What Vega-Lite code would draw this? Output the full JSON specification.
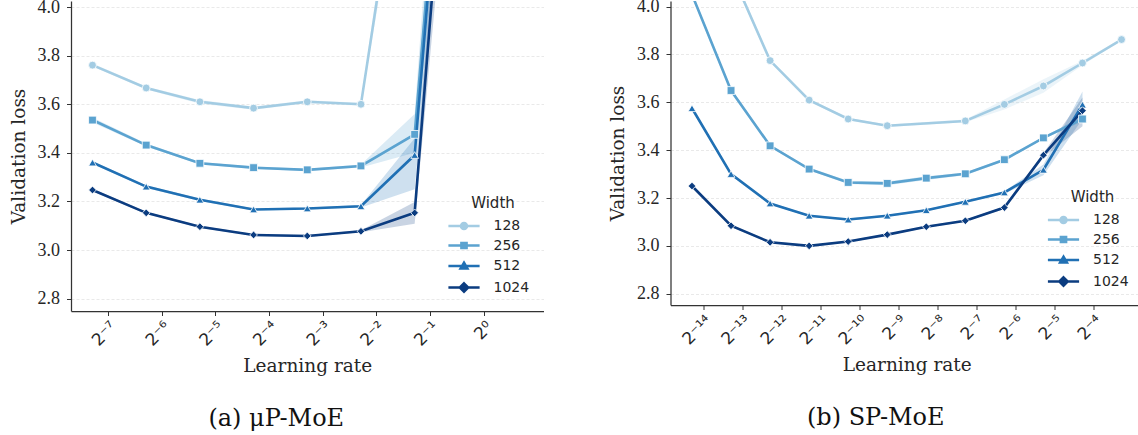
{
  "$schema": "https://vega.github.io/schema/vega-lite/v6.json",
  "autosize": {"type": "pad"},
  "padding": {"left": 9, "top": -3, "right": 0, "bottom": 0},
  "bounds": "flush",
  "spacing": 126.5,
  "datasets": {
    "mup": [
      {"lr": 0.0064, "Width": 128, "loss": 3.761, "lo": 3.755, "hi": 3.768},
      {"lr": 0.0128, "Width": 128, "loss": 3.667, "lo": 3.661, "hi": 3.673},
      {"lr": 0.0256, "Width": 128, "loss": 3.610, "lo": 3.602, "hi": 3.618},
      {"lr": 0.0512, "Width": 128, "loss": 3.584, "lo": 3.577, "hi": 3.591},
      {"lr": 0.1024, "Width": 128, "loss": 3.610, "lo": 3.604, "hi": 3.616},
      {"lr": 0.2048, "Width": 128, "loss": 3.600, "lo": 3.594, "hi": 3.606},
      {"lr": 0.4096, "Width": 128, "loss": 5.04, "lo": 4.9, "hi": 5.2},
      {"lr": 0.8192, "Width": 128, "loss": 7.0, "lo": 6.8, "hi": 7.2},
      {"lr": 1.6384, "Width": 128, "loss": 7.5, "lo": 7.3, "hi": 7.7},
      {"lr": 0.0064, "Width": 256, "loss": 3.535, "lo": 3.525, "hi": 3.545},
      {"lr": 0.0128, "Width": 256, "loss": 3.432, "lo": 3.426, "hi": 3.438},
      {"lr": 0.0256, "Width": 256, "loss": 3.357, "lo": 3.352, "hi": 3.362},
      {"lr": 0.0512, "Width": 256, "loss": 3.339, "lo": 3.334, "hi": 3.344},
      {"lr": 0.1024, "Width": 256, "loss": 3.330, "lo": 3.325, "hi": 3.335},
      {"lr": 0.2048, "Width": 256, "loss": 3.346, "lo": 3.340, "hi": 3.352},
      {"lr": 0.4096, "Width": 256, "loss": 3.476, "lo": 3.40, "hi": 3.56},
      {"lr": 0.8192, "Width": 256, "loss": 6.1, "lo": 5.6, "hi": 6.6},
      {"lr": 1.6384, "Width": 256, "loss": 7.5, "lo": 7.3, "hi": 7.7},
      {"lr": 0.0064, "Width": 512, "loss": 3.360, "lo": 3.355, "hi": 3.365},
      {"lr": 0.0128, "Width": 512, "loss": 3.261, "lo": 3.255, "hi": 3.267},
      {"lr": 0.0256, "Width": 512, "loss": 3.207, "lo": 3.202, "hi": 3.212},
      {"lr": 0.0512, "Width": 512, "loss": 3.167, "lo": 3.163, "hi": 3.171},
      {"lr": 0.1024, "Width": 512, "loss": 3.171, "lo": 3.167, "hi": 3.175},
      {"lr": 0.2048, "Width": 512, "loss": 3.180, "lo": 3.175, "hi": 3.185},
      {"lr": 0.4096, "Width": 512, "loss": 3.391, "lo": 3.25, "hi": 3.46},
      {"lr": 0.8192, "Width": 512, "loss": 6.05, "lo": 5.6, "hi": 6.5},
      {"lr": 1.6384, "Width": 512, "loss": 7.5, "lo": 7.3, "hi": 7.7},
      {"lr": 0.0064, "Width": 1024, "loss": 3.247, "lo": 3.242, "hi": 3.252},
      {"lr": 0.0128, "Width": 1024, "loss": 3.153, "lo": 3.148, "hi": 3.158},
      {"lr": 0.0256, "Width": 1024, "loss": 3.096, "lo": 3.092, "hi": 3.100},
      {"lr": 0.0512, "Width": 1024, "loss": 3.062, "lo": 3.058, "hi": 3.066},
      {"lr": 0.1024, "Width": 1024, "loss": 3.058, "lo": 3.054, "hi": 3.062},
      {"lr": 0.2048, "Width": 1024, "loss": 3.077, "lo": 3.073, "hi": 3.081},
      {"lr": 0.4096, "Width": 1024, "loss": 3.153, "lo": 3.108, "hi": 3.198},
      {"lr": 0.8192, "Width": 1024, "loss": 5.9, "lo": 5.5, "hi": 6.3},
      {"lr": 1.6384, "Width": 1024, "loss": 7.5, "lo": 7.3, "hi": 7.7}
    ],
    "sp": [
      {"lr": 0.00005, "Width": 128, "loss": 4.6, "lo": 4.5, "hi": 4.7},
      {"lr": 0.0001, "Width": 128, "loss": 4.145, "lo": 4.13, "hi": 4.16},
      {"lr": 0.0002, "Width": 128, "loss": 3.774, "lo": 3.768, "hi": 3.780},
      {"lr": 0.0004, "Width": 128, "loss": 3.609, "lo": 3.603, "hi": 3.615},
      {"lr": 0.0008, "Width": 128, "loss": 3.530, "lo": 3.525, "hi": 3.535},
      {"lr": 0.0016, "Width": 128, "loss": 3.502, "lo": 3.497, "hi": 3.507},
      {"lr": 0.0064, "Width": 128, "loss": 3.522, "lo": 3.516, "hi": 3.528},
      {"lr": 0.0128, "Width": 128, "loss": 3.591, "lo": 3.570, "hi": 3.612},
      {"lr": 0.0256, "Width": 128, "loss": 3.668, "lo": 3.640, "hi": 3.696},
      {"lr": 0.0512, "Width": 128, "loss": 3.764, "lo": 3.755, "hi": 3.773},
      {"lr": 0.1024, "Width": 128, "loss": 3.862, "lo": 3.858, "hi": 3.866},
      {"lr": 0.00005, "Width": 256, "loss": 4.05, "lo": 4.04, "hi": 4.06},
      {"lr": 0.0001, "Width": 256, "loss": 3.649, "lo": 3.643, "hi": 3.655},
      {"lr": 0.0002, "Width": 256, "loss": 3.418, "lo": 3.412, "hi": 3.424},
      {"lr": 0.0004, "Width": 256, "loss": 3.321, "lo": 3.316, "hi": 3.326},
      {"lr": 0.0008, "Width": 256, "loss": 3.265, "lo": 3.258, "hi": 3.272},
      {"lr": 0.0016, "Width": 256, "loss": 3.261, "lo": 3.253, "hi": 3.269},
      {"lr": 0.0032, "Width": 256, "loss": 3.283, "lo": 3.275, "hi": 3.291},
      {"lr": 0.0064, "Width": 256, "loss": 3.301, "lo": 3.295, "hi": 3.307},
      {"lr": 0.0128, "Width": 256, "loss": 3.360, "lo": 3.355, "hi": 3.365},
      {"lr": 0.0256, "Width": 256, "loss": 3.451, "lo": 3.446, "hi": 3.456},
      {"lr": 0.0512, "Width": 256, "loss": 3.530, "lo": 3.520, "hi": 3.540},
      {"lr": 0.00005, "Width": 512, "loss": 3.575, "lo": 3.570, "hi": 3.580},
      {"lr": 0.0001, "Width": 512, "loss": 3.300, "lo": 3.295, "hi": 3.305},
      {"lr": 0.0002, "Width": 512, "loss": 3.177, "lo": 3.173, "hi": 3.181},
      {"lr": 0.0004, "Width": 512, "loss": 3.126, "lo": 3.122, "hi": 3.130},
      {"lr": 0.0008, "Width": 512, "loss": 3.110, "lo": 3.106, "hi": 3.114},
      {"lr": 0.0016, "Width": 512, "loss": 3.126, "lo": 3.122, "hi": 3.130},
      {"lr": 0.0032, "Width": 512, "loss": 3.149, "lo": 3.145, "hi": 3.153},
      {"lr": 0.0064, "Width": 512, "loss": 3.184, "lo": 3.180, "hi": 3.188},
      {"lr": 0.0128, "Width": 512, "loss": 3.223, "lo": 3.218, "hi": 3.228},
      {"lr": 0.0256, "Width": 512, "loss": 3.318, "lo": 3.295, "hi": 3.340},
      {"lr": 0.0512, "Width": 512, "loss": 3.590, "lo": 3.530, "hi": 3.645},
      {"lr": 0.00005, "Width": 1024, "loss": 3.250, "lo": 3.246, "hi": 3.254},
      {"lr": 0.0001, "Width": 1024, "loss": 3.084, "lo": 3.080, "hi": 3.088},
      {"lr": 0.0002, "Width": 1024, "loss": 3.015, "lo": 3.011, "hi": 3.019},
      {"lr": 0.0004, "Width": 1024, "loss": 3.000, "lo": 2.996, "hi": 3.004},
      {"lr": 0.0008, "Width": 1024, "loss": 3.018, "lo": 3.014, "hi": 3.022},
      {"lr": 0.0016, "Width": 1024, "loss": 3.047, "lo": 3.043, "hi": 3.051},
      {"lr": 0.0032, "Width": 1024, "loss": 3.080, "lo": 3.076, "hi": 3.084},
      {"lr": 0.0064, "Width": 1024, "loss": 3.105, "lo": 3.101, "hi": 3.109},
      {"lr": 0.0128, "Width": 1024, "loss": 3.160, "lo": 3.155, "hi": 3.165},
      {"lr": 0.0256, "Width": 1024, "loss": 3.379, "lo": 3.370, "hi": 3.388},
      {"lr": 0.0512, "Width": 1024, "loss": 3.565, "lo": 3.500, "hi": 3.620}
    ]
  },
  "resolve": {
    "scale": {"color": "independent", "shape": "independent", "size": "independent", "x": "independent", "y": "independent"},
    "legend": {"color": "independent", "shape": "independent", "size": "independent"}
  },
  "hconcat": [
    {
      "width": 472.5,
      "height": 310,
      "title": {"text": "(a) μP-MoE", "orient": "bottom", "anchor": "middle", "frame": "bounds", "offset": 32, "font": "DejaVu Serif", "fontSize": 24, "fontWeight": "normal", "color": "#111111"},
      "data": {"name": "mup"},
      "encoding": {
        "x": {
          "field": "lr", "type": "quantitative",
          "scale": {"type": "log", "base": 2, "domain": [0.004849, 2.1614], "nice": false},
          "axis": {
            "title": "Learning rate",
            "values": [0.0078125, 0.015625, 0.03125, 0.0625, 0.125, 0.25, 0.5, 1],
            "labelExpr": "round(log(datum.value)/LN2) === 0 ? '2⁰' : '2⁻' + (round(-log(datum.value)/LN2) >= 10 ? '¹' : '') + ['⁰','¹','²','³','⁴','⁵','⁶','⁷','⁸','⁹'][round(-log(datum.value)/LN2) % 10]"
          }
        },
        "color": {
          "field": "Width", "type": "nominal",
          "scale": {"domain": [128, 256, 512, 1024], "range": ["#a3cce3", "#5ba3d0", "#2070b4", "#0b3c80"]},
          "legend": {
            "title": "Width", "orient": "bottom-right", "offset": 14, "padding": 0,
            "symbolSize": 64, "labelOffset": 22.5, "rowPadding": 3.5, "titlePadding": 8,
            "titleAnchor": "middle", "titleAlign": "center",
            "encoding": {"symbols": {
              "shape": {"value": {"expr": "datum.label === '128' ? 'M-3.9,0H3.9M0.75,0A0.75,0.75,0,1,1,-0.75,0A0.75,0.75,0,1,1,0.75,0Z' : datum.label === '256' ? 'M-3.9,0H3.9M-0.65,-0.65H0.65V0.65H-0.65Z' : datum.label === '512' ? 'M-3.9,0H3.9M0,-0.85L0.85,0.6H-0.85Z' : 'M-3.9,0H3.9M0,-1.05L1.05,0L0,1.05L-1.05,0Z'"}},
              "stroke": {"value": {"expr": "datum.label === '128' ? '#a3cce3' : datum.label === '256' ? '#5ba3d0' : datum.label === '512' ? '#2070b4' : '#0b3c80'"}},
              "fill": {"value": {"expr": "datum.label === '128' ? '#a3cce3' : datum.label === '256' ? '#5ba3d0' : datum.label === '512' ? '#2070b4' : '#0b3c80'"}},
              "strokeWidth": {"value": 2.5},
              "size": {"value": 64},
              "opacity": {"value": 1},
              "fillOpacity": {"value": 1},
              "strokeOpacity": {"value": 1}
            }}
          }
        }
      },
      "layer": [
        {
          "mark": {"type": "area", "opacity": 0.22, "clip": true},
          "encoding": {
            "y": {"field": "lo", "type": "quantitative", "scale": {"domain": [2.749, 4.025], "nice": false, "zero": false},
              "axis": {"title": "Validation loss", "values": [2.8, 3.0, 3.2, 3.4, 3.6, 3.8, 4.0], "format": ".1f"}},
            "y2": {"field": "hi"}
          }
        },
        {
          "mark": {"type": "line", "strokeWidth": 2.6, "clip": true},
          "encoding": {"y": {"field": "loss", "type": "quantitative"}}
        },
        {
          "mark": {"type": "point", "filled": true, "opacity": 1, "stroke": "white", "strokeWidth": 0.8, "clip": true},
          "encoding": {
            "y": {"field": "loss", "type": "quantitative"},
            "shape": {"field": "Width", "type": "nominal", "scale": {"domain": [128, 256, 512, 1024, 2048], "range": ["circle", "square", "triangle-up", "diamond", "cross"]}, "legend": null},
            "size": {"field": "Width", "type": "nominal", "scale": {"domain": [128, 256, 512, 1024, 2048], "range": [62, 58, 78, 105, 50]}, "legend": null}
          }
        }
      ]
    },
    {
      "width": 472.5,
      "height": 304,
      "title": {"text": "(b) SP-MoE", "orient": "bottom", "anchor": "middle", "frame": "bounds", "offset": 32, "font": "DejaVu Serif", "fontSize": 24, "fontWeight": "normal", "color": "#111111"},
      "data": {"name": "sp"},
      "encoding": {
        "x": {
          "field": "lr", "type": "quantitative",
          "scale": {"type": "log", "base": 2, "domain": [0.00003414, 0.1499], "nice": false},
          "axis": {
            "title": "Learning rate",
            "values": [0.00006103515625, 0.0001220703125, 0.000244140625, 0.00048828125, 0.0009765625, 0.001953125, 0.00390625, 0.0078125, 0.015625, 0.03125, 0.0625],
            "labelExpr": "round(log(datum.value)/LN2) === 0 ? '2⁰' : '2⁻' + (round(-log(datum.value)/LN2) >= 10 ? '¹' : '') + ['⁰','¹','²','³','⁴','⁵','⁶','⁷','⁸','⁹'][round(-log(datum.value)/LN2) % 10]"
          }
        },
        "color": {
          "field": "Width", "type": "nominal",
          "scale": {"domain": [128, 256, 512, 1024], "range": ["#a3cce3", "#5ba3d0", "#2070b4", "#0b3c80"]},
          "legend": {
            "title": "Width", "orient": "bottom-right", "offset": 14, "padding": 0,
            "symbolSize": 64, "labelOffset": 22.5, "rowPadding": 3.5, "titlePadding": 8,
            "titleAnchor": "middle", "titleAlign": "center",
            "encoding": {"symbols": {
              "shape": {"value": {"expr": "datum.label === '128' ? 'M-3.9,0H3.9M0.75,0A0.75,0.75,0,1,1,-0.75,0A0.75,0.75,0,1,1,0.75,0Z' : datum.label === '256' ? 'M-3.9,0H3.9M-0.65,-0.65H0.65V0.65H-0.65Z' : datum.label === '512' ? 'M-3.9,0H3.9M0,-0.85L0.85,0.6H-0.85Z' : 'M-3.9,0H3.9M0,-1.05L1.05,0L0,1.05L-1.05,0Z'"}},
              "stroke": {"value": {"expr": "datum.label === '128' ? '#a3cce3' : datum.label === '256' ? '#5ba3d0' : datum.label === '512' ? '#2070b4' : '#0b3c80'"}},
              "fill": {"value": {"expr": "datum.label === '128' ? '#a3cce3' : datum.label === '256' ? '#5ba3d0' : datum.label === '512' ? '#2070b4' : '#0b3c80'"}},
              "strokeWidth": {"value": 2.5},
              "size": {"value": 64},
              "opacity": {"value": 1},
              "fillOpacity": {"value": 1},
              "strokeOpacity": {"value": 1}
            }}
          }
        }
      },
      "layer": [
        {
          "mark": {"type": "area", "opacity": 0.22, "clip": true},
          "encoding": {
            "y": {"field": "lo", "type": "quantitative", "scale": {"domain": [2.753, 4.023], "nice": false, "zero": false},
              "axis": {"title": "Validation loss", "values": [2.8, 3.0, 3.2, 3.4, 3.6, 3.8, 4.0], "format": ".1f"}},
            "y2": {"field": "hi"}
          }
        },
        {
          "mark": {"type": "line", "strokeWidth": 2.6, "clip": true},
          "encoding": {"y": {"field": "loss", "type": "quantitative"}}
        },
        {
          "mark": {"type": "point", "filled": true, "opacity": 1, "stroke": "white", "strokeWidth": 0.8, "clip": true},
          "encoding": {
            "y": {"field": "loss", "type": "quantitative"},
            "shape": {"field": "Width", "type": "nominal", "scale": {"domain": [128, 256, 512, 1024, 2048], "range": ["circle", "square", "triangle-up", "diamond", "cross"]}, "legend": null},
            "size": {"field": "Width", "type": "nominal", "scale": {"domain": [128, 256, 512, 1024, 2048], "range": [62, 58, 78, 105, 50]}, "legend": null}
          }
        }
      ]
    }
  ],
  "config": {
    "font": "DejaVu Sans",
    "view": {"stroke": null},
    "axis": {
      "domainColor": "#333333", "domainWidth": 1.25,
      "tickColor": "#333333", "tickWidth": 1, "tickSize": 4.5,
      "labelColor": "#262626", "titleColor": "#262626",
      "titleFont": "DejaVu Serif", "titleFontSize": 18.5, "titleFontWeight": "normal",
      "grid": false
    },
    "axisY": {
      "grid": true, "gridDash": [3, 2], "gridColor": "#e3e3e3", "gridWidth": 0.8,
      "labelFont": "Liberation Serif", "labelFontSize": 18, "labelPadding": 7, "titlePadding": 9
    },
    "axisX": {
      "labelFont": "DejaVu Sans", "labelFontSize": 17, "labelAngle": -45, "labelPadding": 3, "titlePadding": 8
    },
    "legend": {
      "titleFont": "DejaVu Sans", "titleFontSize": 15, "titleFontWeight": "normal", "titleColor": "#262626",
      "labelFont": "DejaVu Sans", "labelFontSize": 14, "labelColor": "#262626"
    }
  }
}
